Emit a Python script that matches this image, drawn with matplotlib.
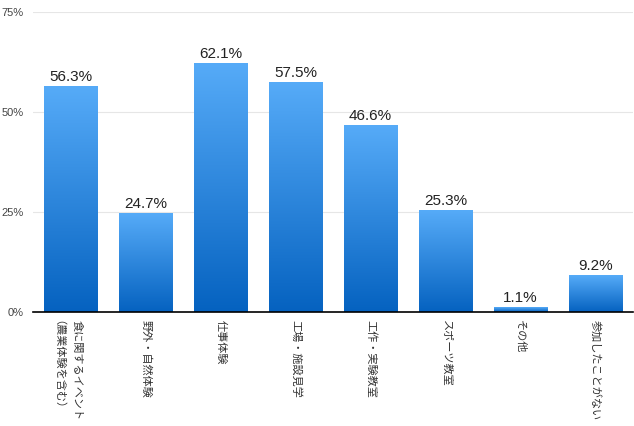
import matplotlib
matplotlib.use("Agg")
import matplotlib.pyplot as plt
import numpy as np
from matplotlib.colors import LinearSegmentedColormap
from matplotlib.transforms import ScaledTranslation

categories = ["食に関するイベント\n（農業体験を含む）", "野外・自然体験", "仕事体験", "工場・施設見学",
              "工作・実験教室", "スポーツ教室", "その他", "参加したことがない"]
values = [56.3, 24.7, 62.1, 57.5, 46.6, 25.3, 1.1, 9.2]
yticks = [0, 25, 50, 75]
ytick_labels = ["0%", "25%", "50%", "75%"]

plt.rcParams['font.family'] = ['Noto Sans CJK JP', 'DejaVu Sans']

fig = plt.figure(figsize=(6.34, 4.26), dpi=100)
ax = fig.add_axes([33/634, (426-312)/426, 600/634, 300/426])

x = np.arange(len(values))
bars = ax.bar(x, values, width=0.71, color='none', edgecolor='none', zorder=3)

cmap = LinearSegmentedColormap.from_list("g", ["#0562c0", "#56abf8"])
grad = np.linspace(0, 1, 256).reshape(-1, 1)
for b in bars:
    x0 = b.get_x(); w = b.get_width(); h = b.get_height()
    ax.imshow(grad, extent=(x0, x0 + w, 0, h), origin='lower', cmap=cmap,
              aspect='auto', zorder=3, interpolation='bilinear')

for xi, v in zip(x, values):
    ax.text(xi, v + 0.6, f"{v}%", ha='center', va='bottom', fontsize=11,
            family=['Liberation Sans', 'DejaVu Sans'], color='#222222', zorder=4)

ax.set_xlim(-0.5, len(values) - 0.5)
ax.set_ylim(0, 75)
ax.set_yticks(yticks)
ax.set_yticklabels(ytick_labels, family=['Liberation Sans', 'DejaVu Sans'], fontsize=8, color='#444444')
ax.yaxis.grid(True, color='#e6e6e6', linewidth=0.8, zorder=0)
ax.set_axisbelow(True)
ax.tick_params(axis='y', length=0, pad=6.5)
ax.tick_params(axis='x', length=0, pad=6)
ax.set_xticks(x)
labels = ax.set_xticklabels(categories, rotation=-90, ha='center', va='top', fontsize=8,
                            color='#333333', linespacing=2.6)
first = labels[0]
first.set_transform(first.get_transform() + ScaledTranslation(-6/100, 0, fig.dpi_scale_trans))
for s in ['left', 'right', 'top']:
    ax.spines[s].set_visible(False)
ax.spines['bottom'].set_color('#000000')
ax.spines['bottom'].set_linewidth(1.2)
ax.spines['bottom'].set_zorder(5)

fig.savefig("out.png", dpi=100)
